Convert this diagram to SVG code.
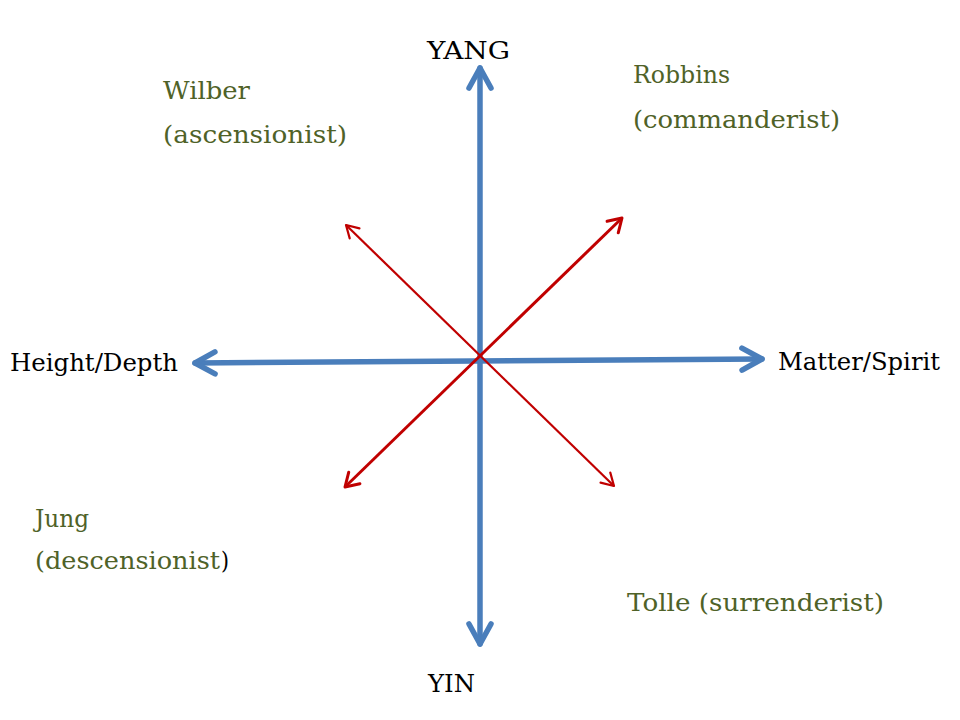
<svg xmlns="http://www.w3.org/2000/svg" width="960" height="720" viewBox="0 0 960 720">
<style>
.lbl{font-family:"DejaVu Serif","Liberation Serif",serif;font-size:24px;fill:#000}
.who{font-family:"DejaVu Serif","Liberation Serif",serif;font-size:24px;fill:#4f6228}
.blue{stroke:#4a7ebb;stroke-width:5.5;fill:none;stroke-linecap:round}
.red{stroke:#c00000;fill:none}
</style>
<defs>
<marker id="ab" markerUnits="userSpaceOnUse" orient="auto-start-reverse" refX="0" refY="0" overflow="visible" markerWidth="1" markerHeight="1">
<path d="M-20,-11 L0,0 L-20,11" fill="none" stroke="#4a7ebb" stroke-width="5.5" stroke-linecap="round" stroke-linejoin="round"/>
</marker>
<marker id="ar3" markerUnits="userSpaceOnUse" orient="auto-start-reverse" refX="0" refY="0" overflow="visible" markerWidth="1" markerHeight="1">
<path d="M-13,-8 L0,0 L-13,8" fill="none" stroke="#c00000" stroke-width="3" stroke-linecap="round" stroke-linejoin="round"/>
</marker>
<marker id="ar2" markerUnits="userSpaceOnUse" orient="auto-start-reverse" refX="0" refY="0" overflow="visible" markerWidth="1" markerHeight="1">
<path d="M-12,-7 L0,0 L-12,7" fill="none" stroke="#c00000" stroke-width="2.2" stroke-linecap="round" stroke-linejoin="round"/>
</marker>
</defs>
<g id="connectors">
<line class="blue" x1="480" y1="68" x2="480" y2="644" marker-start="url(#ab)" marker-end="url(#ab)"/>
<line class="blue" x1="195" y1="363" x2="762" y2="359" marker-start="url(#ab)" marker-end="url(#ab)"/>
<line class="red" stroke-width="3" x1="345" y1="487" x2="622" y2="218" marker-start="url(#ar3)" marker-end="url(#ar3)"/>
<line class="red" stroke-width="2.2" x1="346" y1="225" x2="614" y2="486" marker-start="url(#ar2)" marker-end="url(#ar2)"/>
</g>
<g id="yang"><text class="lbl" x="427" y="59" textLength="83" lengthAdjust="spacingAndGlyphs">YANG</text></g>
<g id="yin"><text class="lbl" x="428" y="692" textLength="47" lengthAdjust="spacingAndGlyphs">YIN</text></g>
<g id="height-depth"><text class="lbl" x="10" y="371" textLength="168" lengthAdjust="spacingAndGlyphs">Height/Depth</text></g>
<g id="matter-spirit"><text class="lbl" x="778" y="370" textLength="162" lengthAdjust="spacingAndGlyphs">Matter/Spirit</text></g>
<g id="wilber">
<text class="who" x="163" y="99" textLength="87" lengthAdjust="spacingAndGlyphs">Wilber</text>
<text class="who" x="163" y="143" textLength="184" lengthAdjust="spacingAndGlyphs">(ascensionist)</text>
</g>
<g id="robbins">
<text class="who" x="633" y="83" textLength="97" lengthAdjust="spacingAndGlyphs">Robbins</text>
<text class="who" x="633" y="128" textLength="207" lengthAdjust="spacingAndGlyphs">(commanderist)</text>
</g>
<g id="jung">
<text class="who" x="35" y="527" textLength="54" lengthAdjust="spacingAndGlyphs">Jung</text>
<text class="who" x="35" y="569" textLength="185" lengthAdjust="spacingAndGlyphs">(descensionist</text><text class="lbl" x="221" y="569" textLength="8" lengthAdjust="spacingAndGlyphs">)</text>
</g>
<g id="tolle"><text class="who" x="627" y="611" textLength="257" lengthAdjust="spacingAndGlyphs">Tolle (surrenderist)</text></g>
</svg>
